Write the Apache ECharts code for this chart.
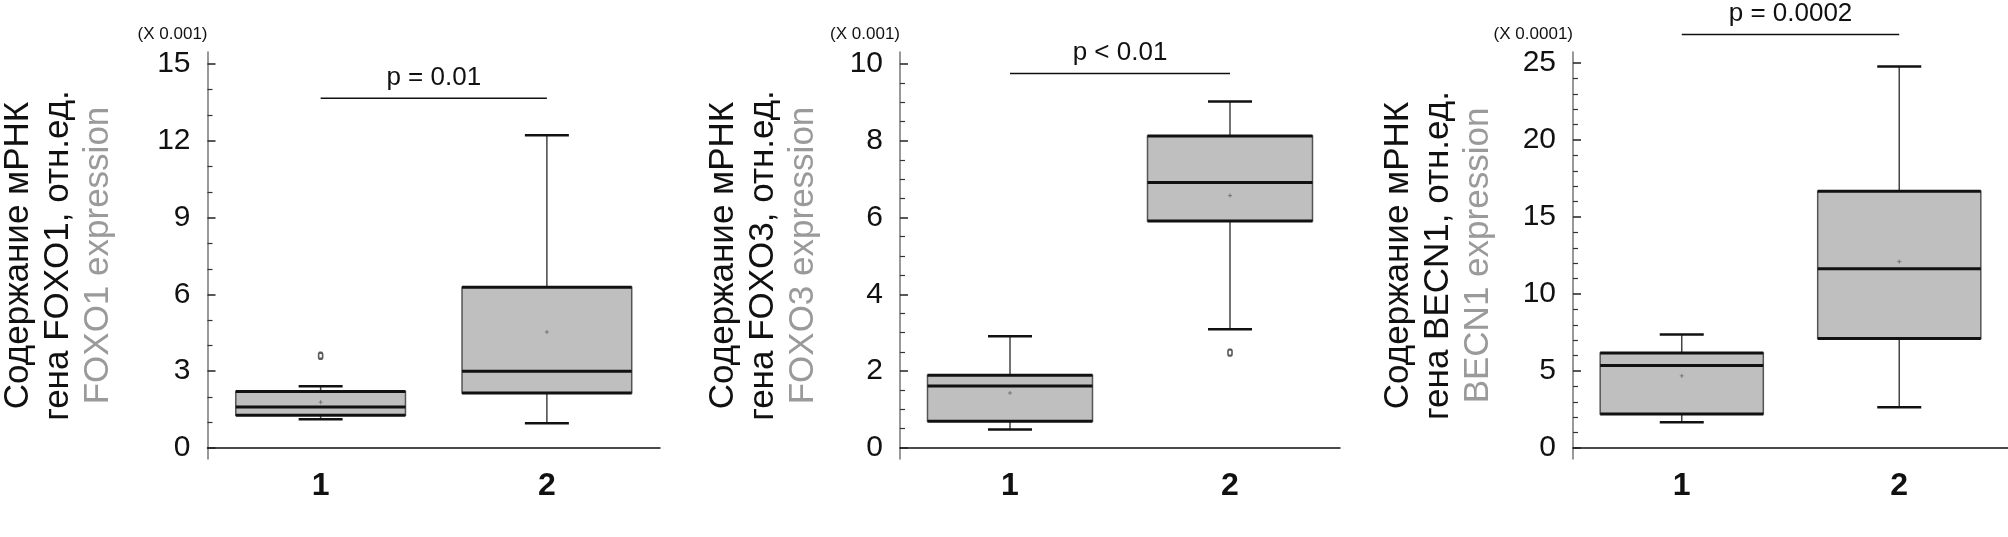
<!DOCTYPE html>
<html>
<head>
<meta charset="utf-8">
<script src="https://cdn.jsdelivr.net/npm/echarts@6/dist/echarts.min.js"></script>
<style>
html,body{margin:0;padding:0;background:#fff;}
#chart{width:2008px;height:537px;}
</style>
</head>
<body>
<div id="chart"></div>
<script>
// ---- data ----
const categories = ['1', '2'];

// [min, Q1, median, Q3, max] per group
const foxo1Box = [[1.12, 1.28, 1.60, 2.21, 2.41], [0.97, 2.15, 3.00, 6.28, 12.22]];
const foxo1Mean = [1.79, 4.53];
const foxo1Outliers = [[0, 3.60]];

const foxo3Box = [[0.48, 0.69, 1.61, 1.89, 2.91], [3.09, 5.91, 6.91, 8.12, 9.02]];
const foxo3Mean = [1.43, 6.57];
const foxo3Outliers = [[1, 2.48]];

const becn1Box = [[1.68, 2.22, 5.36, 6.17, 7.38], [2.65, 7.11, 11.64, 16.68, 24.78]];
const becn1Mean = [4.69, 12.11];
const becn1Outliers = [];

const foxo1Ticks = [0, 3, 6, 9, 12, 15];
const foxo3Ticks = [0, 2, 4, 6, 8, 10];
const becn1Ticks = [0, 5, 10, 15, 20, 25];
const foxo1MinorTicks = [1, 2, 4, 5, 7, 8, 10, 11, 13, 14];
const foxo3MinorTicks = [0.5, 1, 1.5, 2.5, 3, 3.5, 4.5, 5, 5.5, 6.5, 7, 7.5, 8.5, 9, 9.5];
const becn1MinorTicks = [1, 2, 3, 4, 6, 7, 8, 9, 11, 12, 13, 14, 16, 17, 18, 19, 21, 22, 23, 24];

const scaleLabels = ['(X 0.001)', '(X 0.001)', '(X 0.0001)'];
const genes = ['FOXO1', 'FOXO3', 'BECN1'];
const pLabels = ['p = 0.01', 'p < 0.01', 'p = 0.0002'];
const pLevels = [13.66, 9.75, 26.86];

// ---- layout / style ----
const FONT = "'Liberation Sans', Arial, Helvetica, sans-serif";
const FONT_N = "'Liberation Sans Narrow', 'Arial Narrow', 'Liberation Sans', sans-serif";
const panels = [
  {box: foxo1Box, mean: foxo1Mean, out: foxo1Outliers, ticks: foxo1Ticks, minor: foxo1MinorTicks,
   grid: {left: 206, right: 1348, top: 52, bottom: 78}, min: -0.43, max: 15.47, nameGap: 89},
  {box: foxo3Box, mean: foxo3Mean, out: foxo3Outliers, ticks: foxo3Ticks, minor: foxo3MinorTicks,
   grid: {left: 900, right: 668, top: 52, bottom: 78}, min: -0.29, max: 10.31, nameGap: 77},
  {box: becn1Box, mean: becn1Mean, out: becn1Outliers, ticks: becn1Ticks, minor: becn1MinorTicks,
   grid: {left: 1573, right: -23, top: 52, bottom: 78}, min: -0.71, max: 25.72, nameGap: 75}
];

function renderBox(params, api) {
  const x = api.value(0);
  const pMin = api.coord([x, api.value(1)]);
  const pQ1 = api.coord([x, api.value(2)]);
  const pMed = api.coord([x, api.value(3)]);
  const pQ3 = api.coord([x, api.value(4)]);
  const pMax = api.coord([x, api.value(5)]);
  const pMean = api.coord([x, api.value(6)]);
  const band = api.size([1, 0])[0];
  const half = band * 0.375;
  const cap = 22;
  const cx = pMed[0];
  const thick = {stroke: '#111', lineWidth: 3};
  const capStyle = {stroke: '#111', lineWidth: 2.5};
  const whisk = {stroke: '#444', lineWidth: 1.5};
  return {
    type: 'group',
    children: [
      {type: 'line', shape: {x1: cx, y1: pMax[1], x2: cx, y2: pQ3[1]}, style: whisk},
      {type: 'line', shape: {x1: cx, y1: pQ1[1], x2: cx, y2: pMin[1]}, style: whisk},
      {type: 'rect', shape: {x: cx - half, y: pQ3[1], width: 2 * half, height: pQ1[1] - pQ3[1]},
       style: {fill: '#bfbfbf', stroke: '#555', lineWidth: 1.5}},
      {type: 'line', shape: {x1: cx - half, y1: pQ3[1], x2: cx + half, y2: pQ3[1]}, style: thick},
      {type: 'line', shape: {x1: cx - half, y1: pQ1[1], x2: cx + half, y2: pQ1[1]}, style: thick},
      {type: 'line', shape: {x1: cx - half, y1: pMed[1], x2: cx + half, y2: pMed[1]}, style: thick},
      {type: 'line', shape: {x1: cx - cap, y1: pMax[1], x2: cx + cap, y2: pMax[1]}, style: capStyle},
      {type: 'line', shape: {x1: cx - cap, y1: pMin[1], x2: cx + cap, y2: pMin[1]}, style: capStyle},
      {type: 'line', shape: {x1: cx - 2, y1: pMean[1], x2: cx + 2, y2: pMean[1]}, style: {stroke: '#777', lineWidth: 1}},
      {type: 'line', shape: {x1: cx, y1: pMean[1] - 2, x2: cx, y2: pMean[1] + 2}, style: {stroke: '#777', lineWidth: 1}}
    ]
  };
}

function makeBracket(label) {
  return function (params, api) {
    const lv = api.value(2);
    const p1 = api.coord([api.value(0), lv]);
    const p2 = api.coord([api.value(1), lv]);
    return {
      type: 'group',
      children: [
        {type: 'line', shape: {x1: p1[0], y1: p1[1], x2: p2[0], y2: p2[1]}, style: {stroke: '#111', lineWidth: 1.5}},
        {type: 'text', style: {text: label, x: (p1[0] + p2[0]) / 2, y: p1[1] - 21,
          fill: '#111', font: '26px ' + FONT, align: 'center', verticalAlign: 'middle'}}
      ]
    };
  };
}

const grid = [], xAxis = [], yAxis = [], series = [];
panels.forEach((p, i) => {
  grid.push(p.grid);
  xAxis.push({
    type: 'category', gridIndex: i, data: categories, boundaryGap: true,
    axisLine: {lineStyle: {color: '#111', width: 1.5}},
    axisTick: {show: false},
    axisLabel: {fontSize: 32, fontWeight: 'bold', color: '#111', fontFamily: FONT, margin: 11},
    splitLine: {show: false}
  });
  yAxis.push({
    type: 'value', gridIndex: i, min: p.min, max: p.max, position: 'left',
    name: '{a|Содержание мРНК}\n{a|гена ' + genes[i] + ', отн.ед.}\n{b|' + genes[i] + ' expression}',
    nameLocation: 'middle', nameGap: p.nameGap, nameRotate: 90,
    nameTextStyle: {
      rich: {
        a: {fontSize: 35, color: '#111', fontFamily: FONT_N, lineHeight: 40},
        b: {fontSize: 35, color: '#9a9a9a', fontFamily: FONT_N, lineHeight: 40}
      }
    },
    axisLine: {show: true, onZero: false, lineStyle: {color: '#777', width: 1.5}},
    axisTick: {show: true, inside: true, length: 8, customValues: p.ticks, lineStyle: {color: '#222', width: 1.5}},
    axisLabel: {show: true, customValues: p.ticks, fontSize: 30, color: '#111', fontFamily: FONT_N, margin: 17},
    splitLine: {show: false}
  });
  yAxis.push({
    type: 'value', gridIndex: i, min: p.min, max: p.max, position: 'left', offset: 0,
    name: scaleLabels[i], nameLocation: 'end', nameGap: 9,
    nameTextStyle: {fontSize: 17, color: '#111', fontFamily: FONT, align: 'right', verticalAlign: 'bottom'},
    axisLine: {show: false, onZero: false},
    axisTick: {show: true, inside: true, length: 5, customValues: p.minor, lineStyle: {color: '#333', width: 1.2}},
    axisLabel: {show: false},
    splitLine: {show: false}
  });
  series.push({
    type: 'custom', xAxisIndex: i, yAxisIndex: 2 * i,
    renderItem: renderBox,
    encode: {x: 0, y: [1, 2, 3, 4, 5, 6]},
    data: p.box.map((b, k) => [k, b[0], b[1], b[2], b[3], b[4], p.mean[k]]),
    silent: true, z: 2
  });
  series.push({
    type: 'scatter', xAxisIndex: i, yAxisIndex: 2 * i,
    data: p.out, symbol: 'emptyRoundRect', symbolSize: [4, 6],
    itemStyle: {color: '#333', borderColor: '#333', borderWidth: 1},
    silent: true, z: 3
  });
  series.push({
    type: 'custom', xAxisIndex: i, yAxisIndex: 2 * i, clip: false,
    renderItem: makeBracket(pLabels[i]),
    encode: {x: 0, y: 2},
    data: [[0, 1, pLevels[i]]],
    silent: true, z: 4
  });
});

const chart = echarts.init(document.getElementById('chart'), null, {renderer: 'canvas'});
chart.setOption({
  animation: false,
  backgroundColor: '#fff',
  textStyle: {fontFamily: FONT},
  grid, xAxis, yAxis, series
});
</script>
</body>
</html>
